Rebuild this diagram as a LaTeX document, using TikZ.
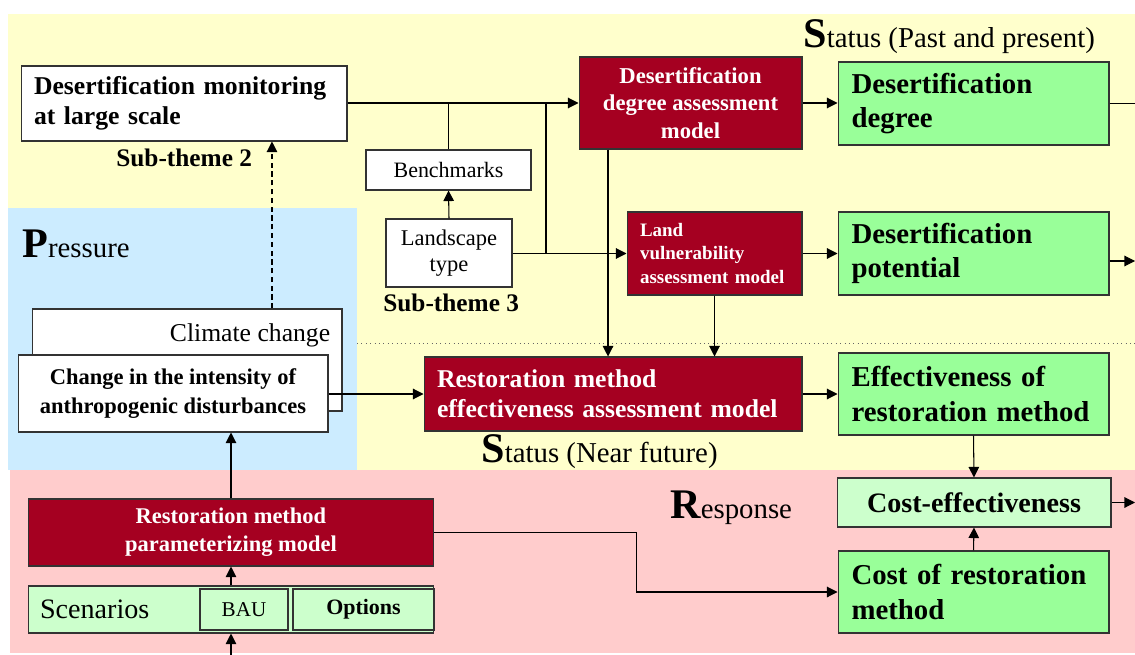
\documentclass[tikz,border=0pt]{standalone}
\usepackage{fontspec}
\setmainfont{Liberation Serif}
\usepackage{xcolor}
\usepackage{tikz}
\usetikzlibrary{arrows.meta,positioning,calc}

\definecolor{dred}{RGB}{165,0,33}
\definecolor{lgreen}{RGB}{153,255,153}
\definecolor{pgreen}{RGB}{204,255,204}
\definecolor{bgyellow}{RGB}{255,255,204}
\definecolor{bgblue}{RGB}{204,236,255}
\definecolor{bgpink}{RGB}{255,204,204}

\newcommand{\fsz}[2]{\fontsize{#1}{#2}\selectfont}
\newcommand{\capl}[1]{{\fsz{24}{24}\bfseries #1}}

\tikzset{
  wbox/.style={draw=black!80, fill=white, line width=0.6pt, inner ysep=0pt},
  rbox/.style={wbox, fill=dred, text=white},
  gbox/.style={wbox, fill=lgreen, font=\fsz{16.4}{19.5}\bfseries, align=left,
    inner xsep=0.27cm, text width=4.88cm, minimum width=5.42cm, minimum height=1.66cm},
  arr/.style={-{Triangle[length=6pt,width=6pt]}, line width=0.6pt},
  lnk/.style={line width=0.6pt},
  caption/.style={anchor=base west, inner sep=0pt, font=\fsz{16.4}{19}}
}

\begin{document}
\begin{tikzpicture}[x=0.02cm, y=-0.02cm]
\useasboundingbox (0,0) rectangle (1135,655);

% background areas
\fill[bgyellow] (8,14) rectangle (1135,470);
\fill[bgblue] (8,208) rectangle (357,470);
\fill[bgpink] (10,470) rectangle (1135,653);
\draw[dotted, black!60, line width=0.5pt] (357,343) -- (1135,343);

% area titles
\node[caption] (stpast) at (803,48) {\capl{S}tatus (Past and present)};
\node[caption] (press) at (22,257) {\capl{P}ressure};
\node[caption] (stnear) at (481,462) {\capl{S}tatus (Near future)};
\node[caption] (resp) at (670,518) {\capl{R}esponse};

% monitoring side
\node[wbox, minimum width=6.52cm, minimum height=1.5cm, text width=6cm, inner xsep=0.26cm,
  align=left, font=\fsz{14.6}{17}\bfseries] (mon) at (184,103.5)
  {Desertification monitoring\\at large scale};
\node[anchor=base west, inner sep=0pt, font=\fsz{14.4}{17}\bfseries] (sub2) at (116,167) {Sub-theme 2};
\node[wbox, minimum width=3.3cm, minimum height=0.8cm, font=\fsz{12.5}{15}] (bench) at (448.5,170) {Benchmarks};
\node[wbox, minimum width=2.52cm, minimum height=1.36cm, align=center, font=\fsz{12.8}{14.7}] (land) at (449,253)
  {Landscape\\type};
\node[anchor=base west, inner sep=0pt, font=\fsz{14.4}{17}\bfseries] (sub3) at (383,311) {Sub-theme 3};

% models
\node[rbox, minimum width=4.46cm, minimum height=1.84cm, align=center, font=\fsz{12.9}{15.6}\bfseries] (ddam) at (690.5,103)
  {Desertification\\degree assessment\\model};
\node[rbox, minimum width=3.5cm, minimum height=1.66cm, text width=2.98cm, inner xsep=0.26cm, align=left,
  font=\fsz{10.8}{13.3}\bfseries] (lvam) at (714.5,253.5)
  {Land\\vulnerability\\assessment model};
\node[rbox, minimum width=7.56cm, minimum height=1.48cm, text width=7.04cm, inner xsep=0.26cm, align=left,
  font=\fsz{14.6}{17}\bfseries] (ream) at (613,394)
  {Restoration method\\effectiveness assessment model};

% outputs
\node[gbox] (dd) at (973.5,103.5) {Desertification\\degree};
\node[gbox] (dp) at (973.5,253.5) {Desertification\\potential};
\node[gbox, minimum height=1.64cm] (erm) at (973.5,394) {Effectiveness of\\restoration method};
\node[wbox, fill=pgreen, minimum width=5.48cm, minimum height=0.98cm, font=\fsz{16}{19}\bfseries] (ce) at (974,502.5)
  {Cost-effectiveness};
\node[gbox, minimum height=1.64cm] (crm) at (973.5,592) {Cost of restoration\\method};

% pressure side
\node[wbox, minimum width=6.2cm, minimum height=2.04cm,
  label={[anchor=base east, inner sep=0pt, xshift=-0.24cm, yshift=-0.66cm, font=\fsz{14.6}{17}]north east:Climate change}]
  (clim) at (187,360) {};
\node[wbox, minimum width=6.2cm, minimum height=1.54cm, align=center, font=\fsz{12.8}{16.4}\bfseries] (chg) at (173,393.5)
  {Change in the intensity of\\anthropogenic disturbances};

% response side
\node[rbox, minimum width=8.12cm, minimum height=1.34cm, align=center, font=\fsz{12.8}{15.9}\bfseries] (rpm) at (231,532.5)
  {Restoration method\\parameterizing model};
\node[wbox, fill=pgreen, minimum width=8.12cm, minimum height=0.94cm, text width=7.64cm, inner xsep=0.24cm,
  align=left, font=\fsz{16}{19}] (scen) at (231,609.5) {Scenarios};
\node[wbox, fill=pgreen, minimum width=1.76cm, minimum height=0.82cm, font=\fsz{12}{14}] (bau) at (244,609.5) {BAU};
\node[wbox, fill=pgreen, minimum width=2.82cm, minimum height=0.82cm, font=\fsz{12.5}{14}\bfseries] (opt) at (363.5,609.5) {Options};

% connectors
\coordinate (j1) at (546,103);
\coordinate (d1) at ([xshift=-1.65cm]ddam.south);
\coordinate (c1) at ([xshift=1.7cm]clim.north);
\coordinate (o1) at (1135,103);
\coordinate (o2) at (1135,261);
\coordinate (o3) at (1135,502.5);
\coordinate (i1) at (231,655);

\draw[arr] (mon.east |- ddam.west) -- (ddam.west);
\draw[lnk] (bench.north) -- (bench.north |- ddam.west);
\draw[arr] (land.north) -- (bench.south);
\draw[arr] (land.east |- lvam.west) -- (lvam.west);
\draw[lnk] (j1) -- (j1 |- lvam.west);
\draw[arr] (ddam.east) -- (ddam.east -| dd.west);
\draw[lnk] (dd.east) -- (dd.east -| o1);
\draw[arr] (lvam.east) -- (dp.west);
\draw[arr] (dp.east |- o2) -- (o2);
\draw[arr] (d1) -- (d1 |- ream.north);
\draw[arr] (lvam.south) -- (lvam.south |- ream.north);
\draw[arr] (chg.east |- ream.west) -- (ream.west);
\draw[arr] (ream.east) -- (ream.east -| erm.west);
\draw[arr] (erm.south) -- (ce.north);
\draw[arr] (crm.north) -- (ce.south);
\draw[arr] (ce.east) -- (ce.east -| o3);
\draw[arr] (rpm.east) -- ++(4.04cm,0) |- (crm.west);
\draw[arr] (rpm.north) -- (rpm.north |- chg.south);
\draw[arr] (scen.north) -- (rpm.south);
\draw[arr] (i1) -- (scen.south);
\draw[arr, dashed, dash pattern=on 3pt off 2pt] (c1) -- (c1 |- mon.south);
\end{tikzpicture}
\end{document}
